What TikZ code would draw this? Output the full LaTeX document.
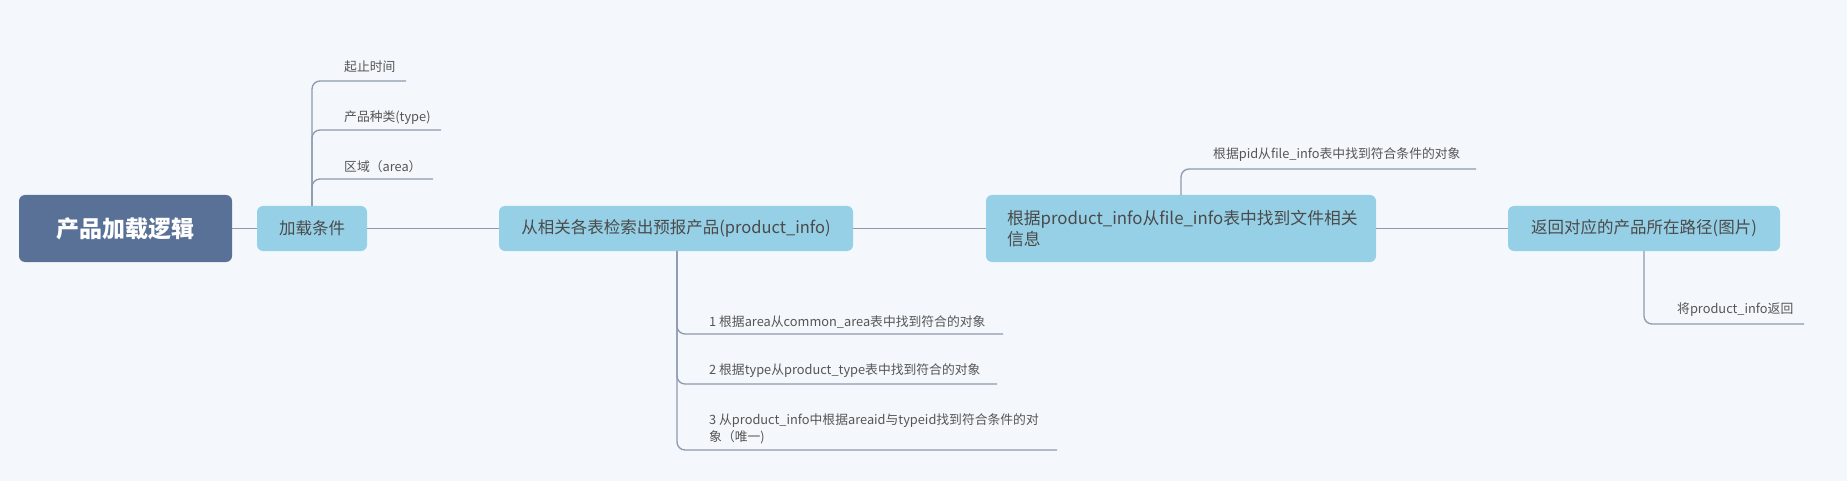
\documentclass[tikz,border=0pt]{standalone}
\usepackage{fontspec}
\setmainfont{Noto Sans CJK SC}
\definecolor{bgc}{HTML}{F4F8FC}
\definecolor{rootc}{HTML}{5A7197}
\definecolor{boxc}{HTML}{96D0E6}
\definecolor{linec}{HTML}{8D99AE}
\definecolor{txtc}{HTML}{4A4A4A}
\definecolor{leafc}{HTML}{555555}
\begin{document}
\begin{tikzpicture}[x=1pt,y=-1pt,
  rootbox/.style={fill=rootc,rounded corners=6pt,text=white,inner sep=0pt,
    minimum width=213pt,minimum height=67pt,font=\fontsize{23}{28}\selectfont\bfseries},
  mainbox/.style={fill=boxc,rounded corners=6pt,text=txtc,inner sep=0pt,
    minimum height=45pt,font=\fontsize{16.5}{21}\selectfont},
  leaf/.style={anchor=west,inner sep=0pt,text=leafc,font=\fontsize{12.8}{17}\selectfont,align=left},
  conn/.style={draw=linec,line width=1.3pt},
  branch/.style={draw=linec,line width=1.3pt,rounded corners=8pt}]
\fill[bgc] (0,0) rectangle (1847,481);
\useasboundingbox (0,0) rectangle (1847,481);

\node[rootbox] (root) at (125.5,228.5) {产品加载逻辑};
\node[mainbox,minimum width=110pt] (c1) at (312,228.5) {加载条件};
\node[mainbox,minimum width=354pt] (c2) at (676,228.5) {从相关各表检索出预报产品(product\_info)};
\node[mainbox,minimum width=390pt,minimum height=67pt,text width=348pt,align=left,
  font=\fontsize{16.8}{21}\selectfont] (c3) at (1181,228.5) {根据product\_info从file\_info表中找到文件相关\\信息};
\node[mainbox,minimum width=272pt] (c4) at (1644,228.5) {返回对应的产品所在路径(图片)};

\draw[conn] (root.east) -- (c1.west);
\draw[conn] (c1.east) -- (c2.west);
\draw[conn] (c2.east) -- (c3.west);
\draw[conn] (c3.east) -- (c4.west);

% leaves of c1
\node[leaf] (l11) at (344,67) {起止时间};
\node[leaf] (l12) at (344,118) {产品种类(type)};
\node[leaf] (l13) at (344,167) {区域（area）};
\coordinate (e11) at (406,81);
\coordinate (e12) at (441,130);
\coordinate (e13) at (433,179);
\draw[branch] (c1.north) |- (e11);
\draw[branch] (c1.north) |- (e12);
\draw[branch] (c1.north) |- (e13);

% leaves of c2
\node[leaf] (l21) at (709,322) {1 根据area从common\_area表中找到符合的对象};
\node[leaf] (l22) at (709,371) {2 根据type从product\_type表中找到符合的对象};
\node[leaf] (l23) at (709,428.5) {3 从product\_info中根据areaid与typeid找到符合条件的对\\象（唯一)};
\coordinate (e21) at (1003,334);
\coordinate (e22) at (997,384);
\coordinate (e23) at (1057,450);
\draw[branch] (c2.south -| 677,0) |- (e21);
\draw[branch] (c2.south -| 677,0) |- (e22);
\draw[branch] (c2.south -| 677,0) |- (e23);

% leaf of c3
\node[leaf] (l31) at (1213,155) {根据pid从file\_info表中找到符合条件的对象};
\coordinate (e31) at (1476,169);
\draw[branch] (c3.north) |- (e31);

% leaf of c4
\node[leaf] (l41) at (1677,310) {将product\_info返回};
\coordinate (e41) at (1804,324);
\draw[branch] (c4.south) |- (e41);
\end{tikzpicture}
\end{document}
